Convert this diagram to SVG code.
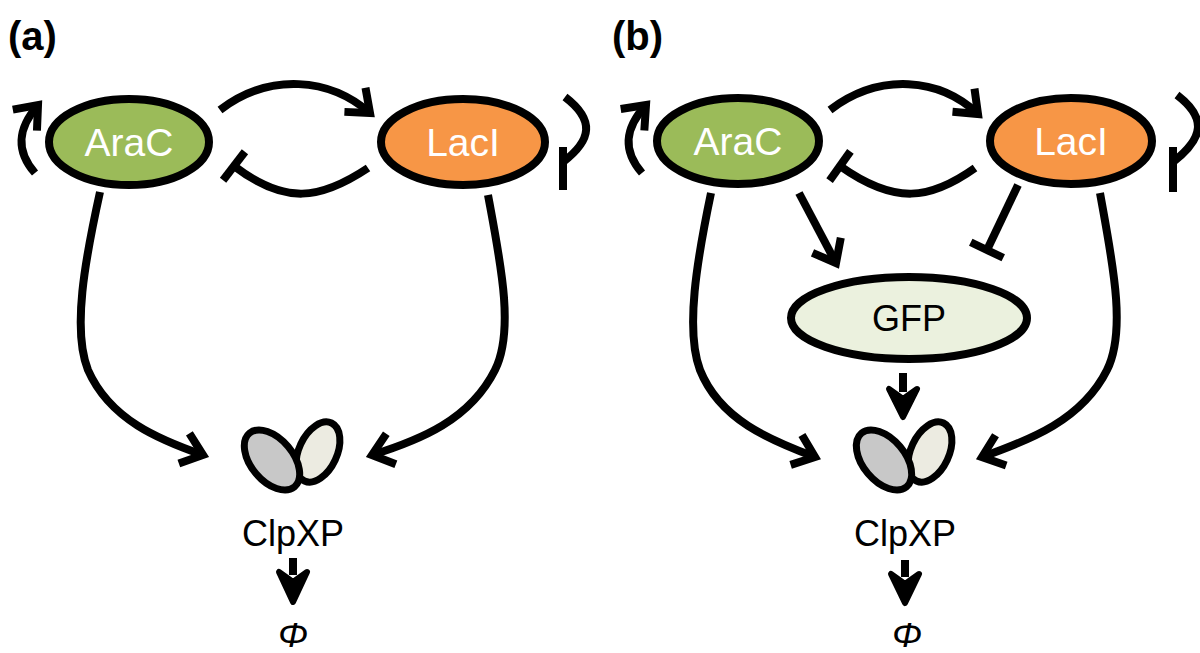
<svg xmlns="http://www.w3.org/2000/svg" width="1200" height="653" viewBox="0 0 1200 653">
<style>
.n{stroke:#000;stroke-width:8}
.t{font-family:"Liberation Sans",Arial,sans-serif;font-size:36px;text-anchor:middle}
.big{font-size:39px}
.w{fill:#fff}
.e{fill:none;stroke:#000;stroke-width:8;stroke-linecap:butt}
.a{marker-end:url(#ar)}
.h{marker-end:url(#bar)}
</style>
<defs>
<marker id="ar" markerWidth="10" markerHeight="10" refX="6" refY="5" orient="auto" markerUnits="userSpaceOnUse" viewBox="0 0 10 10" overflow="visible">
<path d="M-14,-11 L6,5 L-14,21" fill="none" stroke="#000" stroke-width="8" stroke-linejoin="miter"/>
</marker>
<marker id="bar" markerWidth="10" markerHeight="10" refX="0" refY="0" orient="auto" markerUnits="userSpaceOnUse" overflow="visible">
<path d="M0,-18 L0,18" stroke="#000" stroke-width="8"/>
</marker>
<g id="clp">
<ellipse cx="46" cy="-8" rx="32" ry="19" transform="rotate(-65 46 -8)" fill="#ecebe1" stroke="#000" stroke-width="7"/>
<ellipse cx="0" cy="0" rx="35" ry="21" transform="rotate(50)" fill="#c8c8c8" stroke="#000" stroke-width="7"/>
</g>
</defs>
<text x="8" y="50" style="font-family:'Liberation Sans',Arial,sans-serif" font-size="40" font-weight="bold">(a)</text>
<text x="612" y="50" style="font-family:'Liberation Sans',Arial,sans-serif" font-size="40" font-weight="bold">(b)</text>
<g id="edges">
<path class="e a" d="M220,110 C270,72 330,78 370,113"/>
<path class="e h" d="M368,168 C320,200 285,205 234,166"/>
<path class="e a" d="M35,173 C15,150 18,128 38,105"/>
<path class="e" d="M565,97 C595,120 592,140 563,162"/>
<path class="e" d="M563,147 L563,190"/>
<path class="e a" d="M100,192 C85,260 72,330 88,370 C110,420 160,440 203,455"/>
<path class="e a" d="M488,195 C500,260 515,330 495,370 C470,420 420,440 372,455"/>
<path class="e" d="M293,558 L293,575"/>
<path d="M279,572 L293,602 L307,572 L293,582 Z" stroke="#000" stroke-width="6" stroke-linejoin="round"/>
<path class="e a" d="M830,110 C880,72 940,78 978,114"/>
<path class="e h" d="M975,168 C930,200 895,205 840,166"/>
<path class="e a" d="M642,173 C622,150 625,128 646,105"/>
<path class="e" d="M1177,95 C1207,118 1204,138 1173,162"/>
<path class="e" d="M1173,147 L1173,192"/>
<path class="e a" d="M711,193 C697,260 685,330 700,370 C720,420 770,440 815,457"/>
<path class="e a" d="M1100,193 C1112,260 1127,330 1107,370 C1082,420 1030,440 982,457"/>
<path class="e a" d="M799,193 L836,263"/>
<path class="e h" d="M1018,185 L987,250"/>
<path class="e" d="M903,373 L903,392"/>
<path d="M889,389 L903,417 L917,389 L903,399 Z" stroke="#000" stroke-width="6" stroke-linejoin="round"/>
<path class="e" d="M905,560 L905,577"/>
<path d="M891,574 L905,603 L919,574 L905,584 Z" stroke="#000" stroke-width="6" stroke-linejoin="round"/>
</g>
<g id="araC_a"><ellipse cx="129" cy="142" rx="80" ry="43" fill="#9bbb59" class="n"/><text x="129" y="156" class="t big w">AraC</text></g>
<g id="lacI_a"><ellipse cx="463" cy="142" rx="82" ry="43" fill="#f79646" class="n"/><text x="463" y="156" class="t big w">LacI</text></g>
<g id="clpxp_a"><use href="#clp" x="272" y="460"/><text x="293" y="546" class="t">ClpXP</text></g>
<g id="phi_a"><text x="293" y="647" class="t" font-style="italic">Φ</text></g>
<g id="araC_b"><ellipse cx="738" cy="141" rx="81" ry="43" fill="#9bbb59" class="n"/><text x="738" y="155" class="t big w">AraC</text></g>
<g id="lacI_b"><ellipse cx="1071" cy="141" rx="81" ry="43" fill="#f79646" class="n"/><text x="1071" y="155" class="t big w">LacI</text></g>
<g id="gfp"><ellipse cx="909" cy="318" rx="118" ry="41" fill="#ebf1de" class="n"/><text x="909" y="331" class="t">GFP</text></g>
<g id="clpxp_b"><use href="#clp" x="884" y="460"/><text x="905" y="546" class="t">ClpXP</text></g>
<g id="phi_b"><text x="907" y="647" class="t" font-style="italic">Φ</text></g>
</svg>
